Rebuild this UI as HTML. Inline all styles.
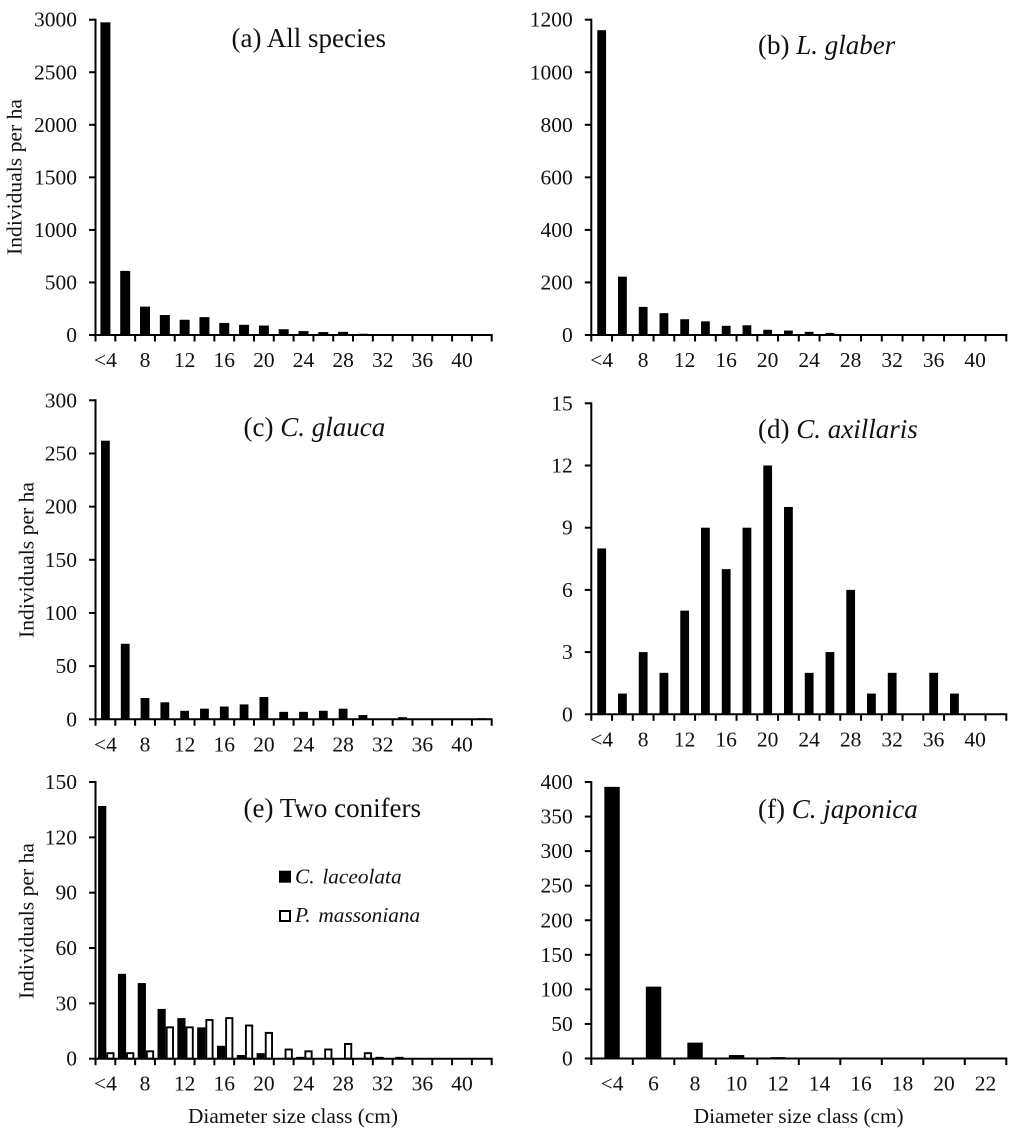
<!DOCTYPE html>
<html lang="en">
<head>
<meta charset="utf-8">
<title>Diameter size class distributions</title>
<style>
  html, body { margin: 0; padding: 0; background: #fff; }
  svg { display: block; filter: blur(0.35px); }
  text { font-family: "Liberation Serif", serif; fill: #111; }
  .title { font-size: 27px; }
  .axis-title { font-size: 21.6px; }
  .x-title { font-size: 21.3px; }
  .tick { font-size: 21.5px; }
  .legend { font-size: 21.3px; font-style: italic; word-spacing: 2.5px; }
</style>
</head>
<body>
<svg id="figure" xmlns="http://www.w3.org/2000/svg" width="1024" height="1136" viewBox="0 0 1024 1136">
  <rect x="0" y="0" width="1024" height="1136" fill="#fff"/>

  <g id="panel-a"></g>
  <g id="panel-b"></g>
  <g id="panel-c"></g>
  <g id="panel-d"></g>
  <g id="panel-e"></g>
  <g id="panel-f"></g>

  <text class="title" x="231.5" y="47">(a) All species</text>
  <text class="title" x="758" y="54">(b) <tspan font-style="italic">L. glaber</tspan></text>
  <text class="title" x="243.5" y="436">(c) <tspan font-style="italic">C. glauca</tspan></text>
  <text class="title" x="758" y="438">(d) <tspan font-style="italic">C. axillaris</tspan></text>
  <text class="title" x="243.5" y="817">(e) Two conifers</text>
  <text class="title" x="758" y="818">(f) <tspan font-style="italic">C. japonica</tspan></text>

  <text class="axis-title" text-anchor="middle" transform="translate(21.7 177) rotate(-90)">Individuals per ha</text>
  <text class="axis-title" text-anchor="middle" transform="translate(33.5 560) rotate(-90)">Individuals per ha</text>
  <text class="axis-title" text-anchor="middle" transform="translate(33.5 921) rotate(-90)">Individuals per ha</text>

  <text class="x-title" text-anchor="middle" x="293" y="1123">Diameter size class (cm)</text>
  <text class="x-title" text-anchor="middle" x="798.7" y="1123">Diameter size class (cm)</text>

  <g>
    <g>
      <rect x="279" y="870.7" width="12" height="12" fill="#000"/>
      <text class="legend" x="295" y="883.3">C. laceolata</text>
    </g>
    <g>
      <rect x="280" y="911" width="10" height="10" fill="#fff" stroke="#000" stroke-width="2"/>
      <text class="legend" x="295" y="922">P. massoniana</text>
    </g>
  </g>
</svg>

<script>
/* Categories and tick labels */
const classes20 = ['<4','6','8','10','12','14','16','18','20','22','24','26','28','30','32','34','36','38','40','42'];
const classes10 = ['<4','6','8','10','12','14','16','18','20','22'];
const xLabels20 = ['<4','8','12','16','20','24','28','32','36','40'];
const xLabels10 = ['<4','6','8','10','12','14','16','18','20','22'];

const yTicksA = [0,500,1000,1500,2000,2500,3000];
const yTicksB = [0,200,400,600,800,1000,1200];
const yTicksC = [0,50,100,150,200,250,300];
const yTicksD = [0,3,6,9,12,15];
const yTicksE = [0,30,60,90,120,150];
const yTicksF = [0,50,100,150,200,250,300,350,400];

/* Series values */
const allSpecies = [2975,610,270,190,145,170,115,97,90,55,37,28,30,12,6,5,5,5,5,5];
const lGlaber    = [1160,222,107,83,60,52,35,37,20,17,12,8,3,3,1,1,3,1,1,1];
const cGlauca    = [262,71,20,16,8,10,12,14,21,7,7,8,10,4,0,2,0,0,0,1];
const cAxillaris = [8,1,3,2,5,9,7,9,12,10,2,3,6,1,2,0,2,1,0,0];
const cLaceolata = [137,46,41,27,22,17,7,2,3,0,1,0,0,0,1,1,0,0,0,0];
const pMassoniana= [3,3,4,17,17,21,22,18,14,5,4,5,8,3,0,0,0,0,0,0];
const cJaponica  = [393,104,23,5,2,1,1,0,1,1];

const SVG_NS = 'http://www.w3.org/2000/svg';
const LINE_W = 2;

function make(tag, attrs, parent) {
  const el = document.createElementNS(SVG_NS, tag);
  for (const k in attrs) el.setAttribute(k, attrs[k]);
  parent.appendChild(el);
  return el;
}

function drawPanel(p) {
  const root = document.getElementById(p.id);
  const n = p.categories.length;
  const band = (p.right - p.left) / n;
  const xBandStart = i => p.left + band * i;
  const xCenter = i => xBandStart(i) + band / 2;
  const yMax = p.yTicks[p.yTicks.length - 1];
  const yScale = v => p.bottom - (v / yMax) * (p.bottom - p.top);

  /* bars */
  p.series.forEach((s, si) => {
    s.values.forEach((v, i) => {
      if (v <= 0) return;
      let x, w;
      if (p.series.length === 1) {
        w = p.barWidth;
        x = xCenter(i) - w / 2;
      } else if (si === 0) {
        w = p.barWidth;
        x = xBandStart(i) + 2.6;
      } else {
        w = p.barWidth - 1.9;
        x = xBandStart(i) + 2.6 + p.barWidth + 0.95;
      }
      const attrs = { x: x, y: yScale(v), width: w, height: p.bottom - yScale(v), fill: s.fill };
      if (s.stroke) {
        attrs.stroke = s.stroke;
        attrs['stroke-width'] = 1.9;
      }
      const bar = make('rect', attrs, root);
      
      
    });
  });

  /* y axis */
  const yAxis = make('line', { x1: p.left, x2: p.left, y1: p.top - 1, y2: p.bottom, stroke: '#000', 'stroke-width': LINE_W }, root);
  
  

  p.yTicks.forEach(t => {
    const y = yScale(t);
    const tick = make('line', { x1: p.left - 6.5, x2: p.left, y1: y, y2: y, stroke: '#000', 'stroke-width': LINE_W }, root);
    
    
    const label = make('text', { class: 'tick', x: p.left - 18.5, y: y + 7, 'text-anchor': 'end' }, root);
    
    
    label.textContent = t;
  });

  /* x axis */
  const xAxis = make('line', { x1: p.left - 1, x2: p.right + 1, y1: p.bottom, y2: p.bottom, stroke: '#000', 'stroke-width': LINE_W }, root);
  
  

  for (let i = 0; i <= n; i++) {
    const x = xBandStart(i);
    const tick = make('line', { x1: x, x2: x, y1: p.bottom, y2: p.bottom + 6.5, stroke: '#000', 'stroke-width': LINE_W }, root);
    
    
  }

  p.xLabels.forEach(c => {
    const i = p.categories.indexOf(c);
    const label = make('text', { class: 'tick', x: xCenter(i), y: p.bottom + 32, 'text-anchor': 'middle' }, root);
    
    
    label.textContent = c;
  });
}

drawPanel({ id: 'panel-a', left: 95.5, right: 491.7, top: 19.7, bottom: 335, barWidth: 10,
  categories: classes20, xLabels: xLabels20, yTicks: yTicksA,
  series: [{ name: 'all-species', values: allSpecies, fill: '#000' }] });

drawPanel({ id: 'panel-b', left: 591.3, right: 1006.3, top: 19.7, bottom: 335, barWidth: 8.8,
  categories: classes20, xLabels: xLabels20, yTicks: yTicksB,
  series: [{ name: 'l-glaber', values: lGlaber, fill: '#000' }] });

drawPanel({ id: 'panel-c', left: 95.5, right: 491.7, top: 400.3, bottom: 719.3, barWidth: 8.8,
  categories: classes20, xLabels: xLabels20, yTicks: yTicksC,
  series: [{ name: 'c-glauca', values: cGlauca, fill: '#000' }] });

drawPanel({ id: 'panel-d', left: 591.3, right: 1006.3, top: 403.3, bottom: 714.3, barWidth: 8.8,
  categories: classes20, xLabels: xLabels20, yTicks: yTicksD,
  series: [{ name: 'c-axillaris', values: cAxillaris, fill: '#000' }] });

drawPanel({ id: 'panel-e', left: 95.5, right: 491.7, top: 782, bottom: 1058.7, barWidth: 8.2,
  categories: classes20, xLabels: xLabels20, yTicks: yTicksE,
  series: [
    { name: 'c-laceolata', values: cLaceolata, fill: '#000' },
    { name: 'p-massoniana', values: pMassoniana, fill: '#fff', stroke: '#000' }
  ] });

drawPanel({ id: 'panel-f', left: 591.3, right: 1006.3, top: 782, bottom: 1058.5, barWidth: 15.4,
  categories: classes10, xLabels: xLabels10, yTicks: yTicksF,
  series: [{ name: 'c-japonica', values: cJaponica, fill: '#000' }] });
</script>
</body>
</html>
